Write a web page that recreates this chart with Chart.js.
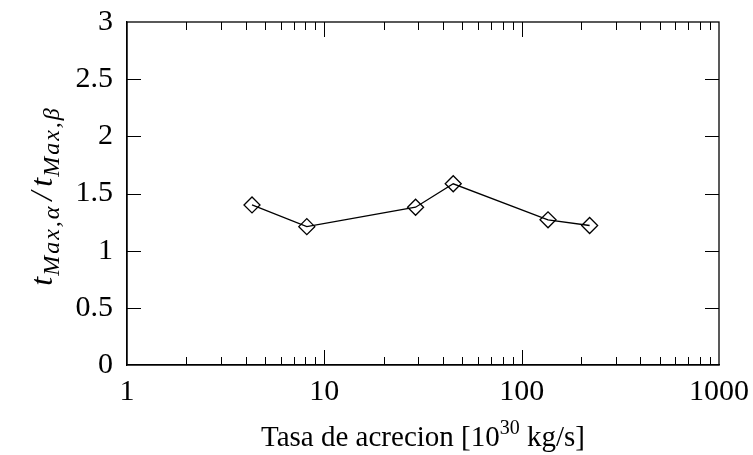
<!DOCTYPE html>
<html>
<head>
<meta charset="utf-8">
<script src="https://cdn.jsdelivr.net/npm/chart.js@4.4.1/dist/chart.umd.min.js"></script>
<style>
  html, body { margin: 0; padding: 0; background: #fff; }
  #wrap { width: 753px; height: 455px; }
</style>
</head>
<body>
<div id="wrap"><canvas id="c"></canvas></div>
<script>
// accretion rate [10^30 kg/s] and ratio t_max,alpha / t_max,beta
const rates = [4.3, 8.15, 29, 45, 136, 221];
const ratios = [1.40, 1.21, 1.38, 1.585, 1.27, 1.22];
const xTickLabels = [1, 10, 100, 1000];
const yTickValues = [0, 0.5, 1, 1.5, 2, 2.5, 3];

const FONT = '"Liberation Serif", "Times New Roman", serif';

// pgfplots style ticks: drawn inward, on all four sides
const innerTicks = {
  id: 'innerTicks',
  afterDraw(chart) {
    const { ctx, chartArea: a, scales } = chart;
    const x = scales.x, y = scales.y;
    ctx.save();
    ctx.strokeStyle = '#000';
    ctx.lineWidth = 1;
    ctx.beginPath();
    for (let d = 1; d < 1000; d *= 10) {
      for (let m = 1; m <= 10; m++) {
        const v = d * m;
        if (v <= 1 || v >= 1000) continue;
        const px = Math.round(x.getPixelForValue(v)) + 0.5;
        const len = (m === 1 || m === 10) ? 15 : 8;
        ctx.moveTo(px, a.bottom); ctx.lineTo(px, a.bottom - len);
        ctx.moveTo(px, a.top); ctx.lineTo(px, a.top + len);
      }
    }
    yTickValues.forEach(v => {
      if (v <= 0 || v >= 3) return;
      const py = Math.round(y.getPixelForValue(v)) + 0.5;
      ctx.moveTo(a.left, py); ctx.lineTo(a.left + 14, py);
      ctx.moveTo(a.right, py); ctx.lineTo(a.right - 14, py);
    });
    ctx.stroke();
    ctx.restore();
  }
};

// axis titles with super/subscripts
const axisTitles = {
  id: 'axisTitles',
  afterDraw(chart) {
    const { ctx, chartArea: a } = chart;
    ctx.save();
    ctx.fillStyle = '#000';
    ctx.textBaseline = 'alphabetic';
    ctx.textAlign = 'left';

    // x title: Tasa de acrecion [10^30 kg/s]
    const big = '29px ' + FONT, small = '20px ' + FONT;
    const parts = [['Tasa de acrecion [10', big, 0], ['30', small, -12], [' kg/s]', big, 0]];
    let w = 0;
    parts.forEach(p => { ctx.font = p[1]; w += ctx.measureText(p[0]).width; });
    let cx = (a.left + a.right) / 2 - w / 2;
    parts.forEach(p => {
      ctx.font = p[1];
      ctx.fillText(p[0], cx, 446 + p[2]);
      cx += ctx.measureText(p[0]).width;
    });

    // y title: t_{Max,alpha} / t_{Max,beta}, rotated, math-like spacing
    const it = 'italic 32px ' + FONT, sub = 'italic 24px ' + FONT;
    const yp = [['t', it, 0, 1], ['Max,α', sub, 7, 6], ['/', it, 0, 5], ['t', it, 0, 1], ['Max,β', sub, 7, 0]];
    const spacing = 2;
    const wordW = p => {
      ctx.font = p[1];
      let s = 0;
      for (const ch of p[0]) s += ctx.measureText(ch).width + spacing;
      return s - spacing;
    };
    let wy = 0;
    yp.forEach(p => { wy += wordW(p) + p[3]; });
    ctx.translate(52, 197);
    ctx.rotate(-Math.PI / 2);
    let cy = -wy / 2;
    yp.forEach(p => {
      ctx.font = p[1];
      let px = cy;
      for (const ch of p[0]) {
        ctx.fillText(ch, px, p[2]);
        px += ctx.measureText(ch).width + spacing;
      }
      cy += wordW(p) + p[3];
    });
    ctx.restore();
  }
};

new Chart(document.getElementById('c'), {
  type: 'line',
  data: {
    datasets: [{
      data: rates.map((r, i) => ({ x: r, y: ratios[i] })),
      borderColor: '#000',
      borderWidth: 1.3,
      pointStyle: 'rectRot',
      pointRadius: 8,
      pointBorderWidth: 1.3,
      pointBorderColor: '#000',
      pointBackgroundColor: 'rgba(0,0,0,0)',
      tension: 0
    }]
  },
  options: {
    responsive: true,
    maintainAspectRatio: false,
    animation: false,
    layout: { padding: { left: 0, right: 34, top: 22, bottom: 0 } },
    plugins: { legend: { display: false }, tooltip: { enabled: false } },
    scales: {
      x: {
        type: 'logarithmic',
        min: 1,
        max: 1000,
        grid: { display: false, drawTicks: false },
        border: { display: true, color: '#000', width: 1.3 },
        afterBuildTicks(scale) {
          scale.ticks = xTickLabels.map(v => ({ value: v }));
        },
        afterFit(scale) {
          scale.height = 90;
          scale.paddingLeft = 0;
          scale.paddingRight = 0;
        },
        ticks: {
          color: '#000',
          font: { family: FONT, size: 30 },
          padding: 9,
          maxRotation: 0,
          autoSkip: false,
          callback: v => String(v)
        }
      },
      y: {
        min: 0,
        max: 3,
        grid: { display: false, drawTicks: false },
        border: { display: true, color: '#000', width: 1.3 },
        afterBuildTicks(scale) {
          scale.ticks = yTickValues.map(v => ({ value: v }));
        },
        afterFit(scale) {
          scale.width = 127;
          scale.paddingTop = 0;
          scale.paddingBottom = 0;
        },
        ticks: {
          color: '#000',
          font: { family: FONT, size: 30 },
          padding: 14,
          callback: v => String(v)
        }
      }
    }
  },
  plugins: [innerTicks, axisTitles,
    {
      id: 'frame',
      afterDraw(chart) {
        const { ctx, chartArea: a } = chart;
        ctx.save();
        ctx.strokeStyle = '#000';
        ctx.lineWidth = 1.3;
        ctx.strokeRect(a.left, a.top, a.right - a.left, a.bottom - a.top);
        ctx.restore();
      }
    }]
});
</script>
</body>
</html>
